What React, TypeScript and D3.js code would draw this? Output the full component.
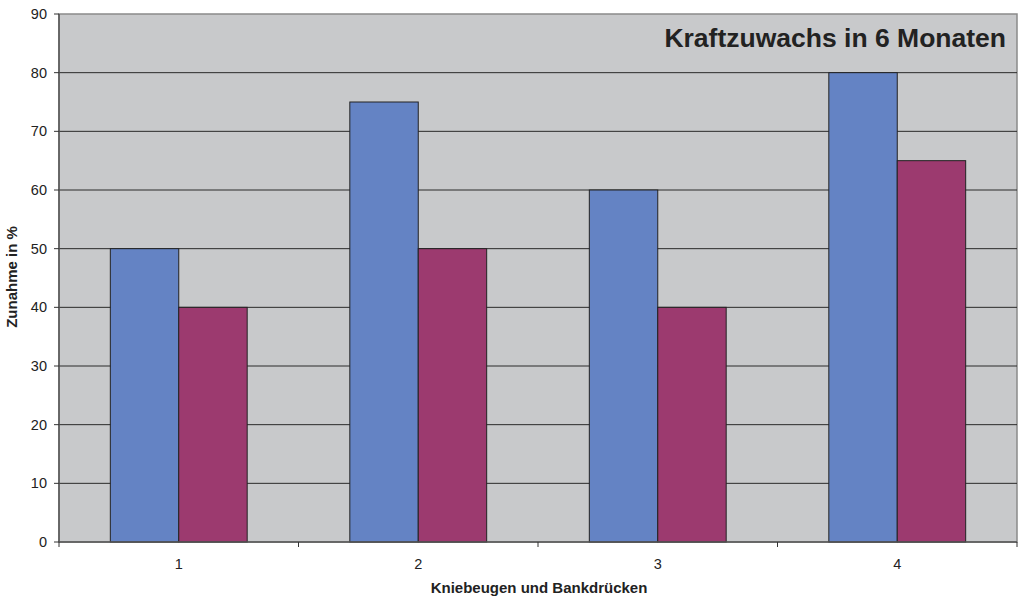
import React from "react";
import * as d3 from "d3";

const categories = ["1", "2", "3", "4"];
const seriesA = [50, 75, 60, 80];
const seriesB = [40, 50, 40, 65];
const yTicks = [0, 10, 20, 30, 40, 50, 60, 70, 80, 90];
const title = "Kraftzuwachs in 6 Monaten";
const xTitle = "Kniebeugen und Bankdrücken";
const yTitle = "Zunahme in %";

export default function App() {
  const W = 1021, H = 598;
  const left = 59, right = 1017, top = 14, bottom = 542;
  const x = d3.scaleBand<string>().domain(categories).range([left, right]);
  const y = d3.scaleLinear().domain([0, 90]).range([bottom, top]);
  const bw = x.bandwidth();
  const barW = bw / 3.5;
  const font = "Liberation Sans, Arial, sans-serif";
  const bounds = d3.range(categories.length + 1).map((i) => left + i * bw);
  return (
    <svg width={W} height={H} style={{ position: "absolute", left: 0, top: 0 }} fontFamily={font}>
      <rect x={0} y={0} width={W} height={H} fill="#fff" />
      <rect x={left} y={top} width={right - left} height={bottom - top} fill="#C8C9CB" stroke="#8a8a8a" strokeWidth={1.5} />
      {yTicks.filter((t) => t > 0 && t < 90).map((t) => (
        <line key={t} x1={left} x2={right} y1={y(t)} y2={y(t)} stroke="#2a2a2a" strokeWidth={1} />
      ))}
      {categories.map((c, i) => {
        const x0 = (x(c) as number) + bw / 2 - barW;
        return (
          <g key={c}>
            <rect x={x0} y={y(seriesA[i])} width={barW} height={bottom - y(seriesA[i])} fill="#6483C4" stroke="#222" strokeWidth={1} />
            <rect x={x0 + barW} y={y(seriesB[i])} width={barW} height={bottom - y(seriesB[i])} fill="#9C3A6F" stroke="#222" strokeWidth={1} />
          </g>
        );
      })}
      <line x1={left} x2={left} y1={top} y2={bottom} stroke="#555" strokeWidth={1.5} />
      <line x1={left} x2={right} y1={bottom} y2={bottom} stroke="#555" strokeWidth={1.5} />
      {yTicks.map((t) => (
        <g key={t}>
          <line x1={left - 5} x2={left} y1={y(t)} y2={y(t)} stroke="#333" />
          <text x={left - 12} y={y(t) + 5} fontSize={14.5} textAnchor="end" fill="#222">{t}</text>
        </g>
      ))}
      {bounds.map((b, i) => (
        <line key={i} x1={b} x2={b} y1={bottom} y2={bottom + 5} stroke="#333" />
      ))}
      {categories.map((c) => (
        <text key={c} x={(x(c) as number) + bw / 2} y={569} fontSize={14.5} textAnchor="middle" fill="#222">{c}</text>
      ))}
      <text x={539} y={593} fontSize={15} fontWeight="bold" textAnchor="middle" fill="#222">{xTitle}</text>
      <text transform={`translate(17,${277}) rotate(-90)`} fontSize={15} fontWeight="bold" textAnchor="middle" fill="#222">{yTitle}</text>
      <text x={1006} y={47} fontSize={26.5} fontWeight="bold" textAnchor="end" fill="#222">{title}</text>
    </svg>
  );
}
